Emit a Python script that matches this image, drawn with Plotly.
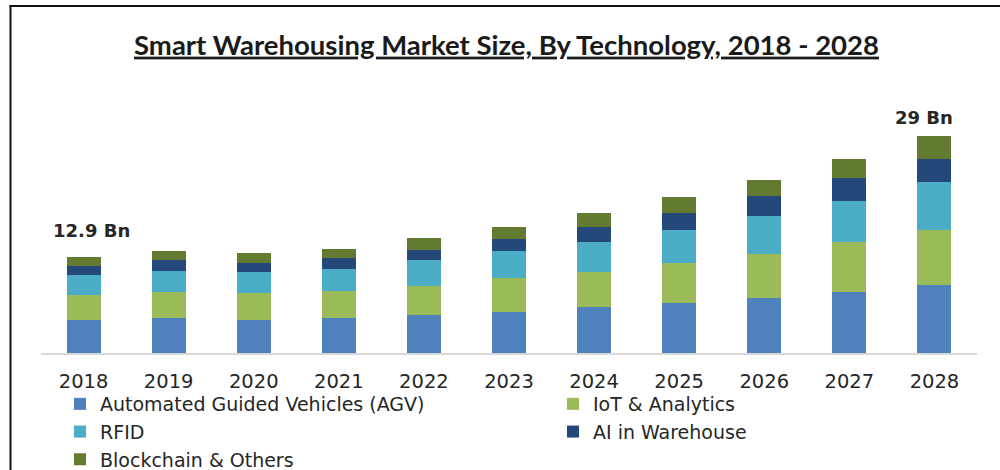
import plotly.graph_objects as go

years = ["2018", "2019", "2020", "2021", "2022", "2023", "2024", "2025", "2026", "2027", "2028"]
agv = [4.46, 4.73, 4.46, 4.69, 5.13, 5.49, 6.10, 6.73, 7.36, 8.17, 9.05]
iot = [3.31, 3.44, 3.57, 3.57, 3.84, 4.55, 4.69, 5.27, 5.89, 6.64, 7.46]
rfid = [2.62, 2.85, 2.76, 3.04, 3.43, 3.56, 4.07, 4.46, 5.03, 5.58, 6.33]
ai = [1.20, 1.38, 1.26, 1.42, 1.43, 1.66, 2.01, 2.24, 2.68, 2.99, 3.13]
blockchain = [1.26, 1.26, 1.34, 1.20, 1.61, 1.61, 1.87, 2.22, 2.24, 2.64, 3.12]

series_names = ["Automated Guided Vehicles (AGV)", "IoT & Analytics", "RFID",
                "AI in Warehouse", "Blockchain & Others"]
series_values = [agv, iot, rfid, ai, blockchain]
series_colors = ["#4f81bd", "#9bbb59", "#4bacc6", "#24487a", "#637a31"]
series_legend = ["legend", "legend2", "legend", "legend2", "legend"]

label_years = ["2018", "2028"]
label_texts = ["12.9 Bn", "29 Bn"]

W, H = 1000, 470
ML, MR, MT, MB = 41, 23, 100, 117
PW, PH = W - ML - MR, H - MT - MB

fig = go.Figure()
for name, vals, col, lg in zip(series_names, series_values, series_colors, series_legend):
    fig.add_trace(go.Bar(x=years, y=vals, name=name, legend=lg,
                         marker=dict(color=col, line=dict(width=0))))

totals = [sum(v[i] for v in series_values) for i in range(len(years))]
shifts = {"2018": (8, 14), "2028": (-10, 6)}
for yr, txt in zip(label_years, label_texts):
    i = years.index(yr)
    xs, ys = shifts[yr]
    fig.add_annotation(x=i, y=totals[i], xref="x", yref="y",
                       text="<b>" + txt + "</b>", showarrow=False,
                       yanchor="bottom", xanchor="center", xshift=xs, yshift=ys,
                       font=dict(family="DejaVu Sans", size=18, color="#262626"))

def px_x(p):
    return (p - ML) / PW

def px_y(p):
    return (H - MB - p) / PH

fig.add_shape(type="line", xref="paper", yref="paper", x0=px_x(10.5), x1=px_x(10.5),
              y0=px_y(5), y1=px_y(472), line=dict(color="#111111", width=2))
fig.add_shape(type="line", xref="paper", yref="paper", x0=px_x(9.5), x1=px_x(1002),
              y0=px_y(6), y1=px_y(6), line=dict(color="#111111", width=2))

legend_font = dict(family="DejaVu Sans", size=19, color="#262626")
fig.update_layout(
    width=W, height=H,
    margin=dict(l=ML, r=MR, t=MT, b=MB, autoexpand=False),
    barmode="stack", bargap=0.6,
    plot_bgcolor="white", paper_bgcolor="white",
    title=dict(text="<b><u>Smart Warehousing Market Size, By Technology, 2018 - 2028</u></b>",
               x=506.5 / W, xanchor="center", xref="container", y=1 - 45 / H, yref="container",
               yanchor="middle",
               font=dict(family="Lato", size=27.5, color="#1a1a1a")),
    xaxis=dict(type="category", range=[-0.5, 10.5], showline=True, linecolor="#d9d9d9", linewidth=2,
               showgrid=False, ticks="", ticklabelstandoff=10,
               tickfont=dict(family="DejaVu Sans", size=19.5, color="#262626")),
    yaxis=dict(range=[0, PH / 7.47], visible=False, showgrid=False),
    showlegend=True,
    legend=dict(orientation="v", x=px_x(60), xanchor="left", y=px_y(385), yanchor="top",
                traceorder="normal", font=legend_font, bgcolor="rgba(0,0,0,0)"),
    legend2=dict(orientation="v", x=px_x(553), xanchor="left", y=px_y(385), yanchor="top",
                 traceorder="normal", font=legend_font, bgcolor="rgba(0,0,0,0)"),
)

fig.write_html("out.html")
